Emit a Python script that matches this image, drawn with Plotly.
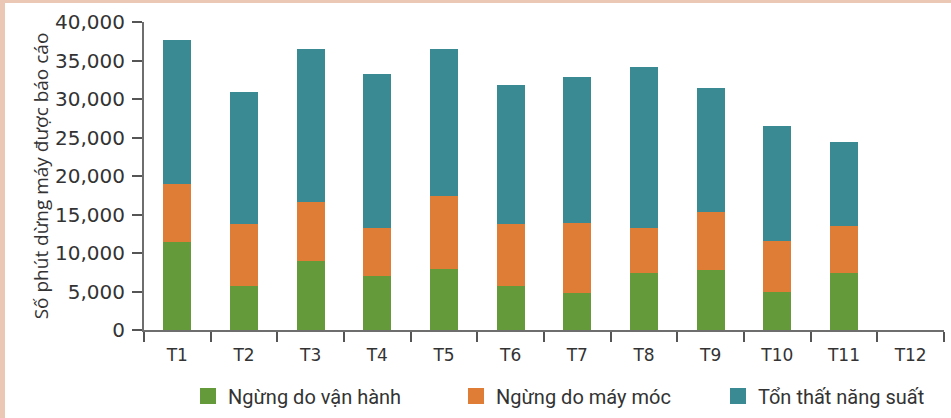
import plotly.graph_objects as go

months = ["T1", "T2", "T3", "T4", "T5", "T6", "T7", "T8", "T9", "T10", "T11", "T12"]
# cumulative tops
green_top = [11400, 5700, 8900, 7000, 7900, 5700, 4800, 7400, 7800, 4900, 7400, 0]
orange_top = [19000, 13800, 16600, 13300, 17400, 13800, 13900, 13300, 15300, 11500, 13500, 0]
total_top = [37600, 30900, 36500, 33300, 36500, 31800, 32900, 34100, 31400, 26500, 24400, 0]

van_hanh = green_top
may_moc = [o - g for o, g in zip(orange_top, green_top)]
ton_that = [t - o for t, o in zip(total_top, orange_top)]

names = ["Ngừng do vận hành", "Ngừng do máy móc", "Tổn thất năng suất"]
colors = ["#659A3B", "#DF7C36", "#3A8A94"]
series = [van_hanh, may_moc, ton_that]
legend_ids = ["legend", "legend2", "legend3"]

fig = go.Figure()
for nm, col, vals in zip(names, colors, series):
    fig.add_trace(go.Bar(x=months, y=vals, name=nm, marker=dict(color=col, line=dict(width=0)),
                         showlegend=False))
for nm, col, lg in zip(names, colors, legend_ids):
    fig.add_trace(go.Scatter(x=[None], y=[None], mode="markers", name=nm, legend=lg,
                             marker=dict(symbol="square", size=16, color=col)))

W, H = 951, 418
L, R, T, B = 144, 7, 22, 88
pw, ph = W - L - R, H - T - B
pink = "#EBC7B5"
shapes = [
    dict(type="rect", xref="paper", yref="paper", x0=-L / pw, x1=(5 - L) / pw,
         y0=-B / ph, y1=1 + T / ph, fillcolor=pink, line=dict(width=0), layer="below"),
    dict(type="rect", xref="paper", yref="paper", x0=-L / pw, x1=1 + R / pw,
         y0=1 + (T - 3) / ph, y1=1 + T / ph, fillcolor=pink, line=dict(width=0), layer="below"),
]

leg_font = dict(family="Roboto", size=20, color="#333333")
def leg(xpx):
    return dict(orientation="h", x=(xpx - L) / pw, xanchor="left", y=-(396 - 330) / ph,
                yanchor="middle", font=leg_font, itemclick=False, bgcolor="rgba(0,0,0,0)")

fig.update_layout(
    width=W, height=H,
    margin=dict(l=L, r=R, t=T, b=B, autoexpand=False),
    paper_bgcolor="white", plot_bgcolor="white",
    barmode="stack", bargap=0.58,
    font=dict(family="Open Sans", color="#333333"),
    shapes=shapes,
    legend=leg(188), legend2=leg(456), legend3=leg(718),
    xaxis=dict(showline=True, linecolor="#6E6E6E", linewidth=2, ticks="outside", ticklen=10,
               tickcolor="#555555", tickwidth=1.5, tickson="boundaries", ticklabelstandoff=9,
               tickfont=dict(family="DejaVu Sans", size=17, color="#333333"),
               showgrid=False, zeroline=False, automargin=False),
    yaxis=dict(range=[0, 40000], tickvals=[0, 5000, 10000, 15000, 20000, 25000, 30000, 35000, 40000],
               tickformat=",d", showline=True, linecolor="#6E6E6E", linewidth=2, ticks="outside",
               ticklen=10, tickcolor="#555555", tickwidth=1.5, showgrid=False, zeroline=False,
               ticklabelstandoff=3, automargin=False,
               tickfont=dict(family="DejaVu Sans", size=20, color="#333333"),
               title=dict(text="Số phút dừng máy được báo cáo",
                          font=dict(family="Open Sans", size=19, color="#333333"), standoff=1)),
)

fig.write_html("out.html", config={"displayModeBar": False},
               post_script="document.body.style.margin='0';")
